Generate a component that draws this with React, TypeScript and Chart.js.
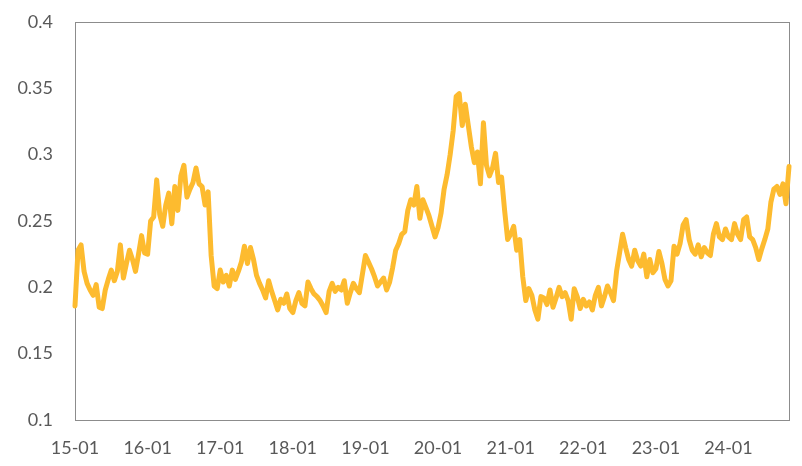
import React, { useEffect, useRef } from "react";
import { Chart, registerables } from "chart.js";

Chart.register(...registerables);

// Year tick labels shown on the x axis (one per January)
const tickLabels = ["15-01", "16-01", "17-01", "18-01", "19-01", "20-01", "21-01", "22-01", "23-01", "24-01"];

const values2015 = [0.186, 0.228, 0.232, 0.212, 0.203, 0.198, 0.194, 0.202, 0.185, 0.184, 0.198, 0.206, 0.213, 0.205, 0.212, 0.232, 0.207, 0.218, 0.228, 0.221, 0.212, 0.225, 0.239, 0.226];
const values2016 = [0.225, 0.25, 0.253, 0.281, 0.255, 0.246, 0.262, 0.271, 0.248, 0.276, 0.258, 0.284, 0.292, 0.268, 0.274, 0.279, 0.29, 0.278, 0.276, 0.262, 0.272, 0.224, 0.201, 0.199];
const values2017 = [0.213, 0.204, 0.209, 0.201, 0.213, 0.206, 0.212, 0.219, 0.231, 0.218, 0.23, 0.221, 0.209, 0.203, 0.198, 0.192, 0.205, 0.197, 0.19, 0.183, 0.191, 0.188, 0.195, 0.184];
const values2018 = [0.181, 0.19, 0.196, 0.188, 0.186, 0.204, 0.199, 0.195, 0.193, 0.19, 0.186, 0.181, 0.197, 0.203, 0.197, 0.2, 0.198, 0.205, 0.188, 0.196, 0.203, 0.199, 0.196, 0.21];
const values2019 = [0.224, 0.219, 0.214, 0.208, 0.201, 0.204, 0.207, 0.198, 0.204, 0.215, 0.228, 0.233, 0.24, 0.242, 0.258, 0.266, 0.262, 0.276, 0.252, 0.266, 0.26, 0.254, 0.246, 0.238];
const values2020 = [0.245, 0.256, 0.274, 0.285, 0.3, 0.318, 0.344, 0.346, 0.322, 0.338, 0.322, 0.306, 0.294, 0.302, 0.278, 0.324, 0.292, 0.284, 0.29, 0.301, 0.279, 0.283, 0.258, 0.236];
const values2021 = [0.24, 0.246, 0.228, 0.236, 0.208, 0.19, 0.199, 0.194, 0.183, 0.176, 0.193, 0.192, 0.187, 0.198, 0.185, 0.192, 0.2, 0.193, 0.196, 0.19, 0.176, 0.199, 0.193, 0.184];
const values2022 = [0.191, 0.186, 0.189, 0.183, 0.194, 0.2, 0.186, 0.193, 0.201, 0.196, 0.19, 0.212, 0.226, 0.24, 0.23, 0.221, 0.216, 0.228, 0.22, 0.216, 0.225, 0.208, 0.221, 0.211];
const values2023 = [0.214, 0.227, 0.218, 0.206, 0.201, 0.205, 0.231, 0.225, 0.233, 0.247, 0.251, 0.236, 0.228, 0.225, 0.232, 0.223, 0.23, 0.226, 0.224, 0.24, 0.248, 0.238, 0.236, 0.244];
const values2024 = [0.238, 0.236, 0.248, 0.24, 0.236, 0.251, 0.253, 0.238, 0.236, 0.23, 0.221, 0.229, 0.236, 0.244, 0.264, 0.274, 0.276, 0.27, 0.278, 0.263, 0.291];

const series = [
  ...values2015, ...values2016, ...values2017, ...values2018, ...values2019,
  ...values2020, ...values2021, ...values2022, ...values2023, ...values2024,
];

const POINTS_PER_YEAR = 24;
// Category labels: "YY-MM" for each half-month observation
const categories = series.map((_, i) => {
  const yr = 15 + Math.floor(i / POINTS_PER_YEAR);
  const mo = Math.floor((i % POINTS_PER_YEAR) / 2) + 1;
  return `${yr}-${String(mo).padStart(2, "0")}`;
});

const LINE_COLOR = "#FDBB2F";
const TEXT_COLOR = "#595959";
const BORDER_COLOR = "#8C8C8C";
const FONT = "Lato, 'Open Sans', sans-serif";

const boxPlugin = {
  id: "plotBox",
  beforeDatasetsDraw(chart: any) {
    const { ctx, chartArea } = chart;
    ctx.save();
    ctx.strokeStyle = BORDER_COLOR;
    ctx.lineWidth = 1;
    ctx.strokeRect(
      Math.round(chartArea.left) + 0.5,
      Math.round(chartArea.top) + 0.5,
      Math.round(chartArea.right - chartArea.left),
      Math.round(chartArea.bottom - chartArea.top)
    );
    ctx.restore();
  },
};

export default function App() {
  const ref = useRef<HTMLCanvasElement | null>(null);

  useEffect(() => {
    if (!ref.current) return;
    const chart = new Chart(ref.current, {
      type: "line",
      data: {
        labels: categories,
        datasets: [
          {
            data: series,
            borderColor: LINE_COLOR,
            backgroundColor: LINE_COLOR,
            borderWidth: 5,
            pointRadius: 0,
            tension: 0,
            borderJoinStyle: "round",
            borderCapStyle: "round",
            clip: false as any,
          },
        ],
      },
      options: {
        animation: false,
        responsive: true,
        maintainAspectRatio: false,
        layout: { padding: { left: 0, right: 13, top: 22, bottom: 0 } },
        plugins: { legend: { display: false }, tooltip: { enabled: false } },
        scales: {
          x: {
            type: "category",
            offset: false,
            grid: { display: false, drawTicks: false },
            border: { display: false },
            ticks: {
              autoSkip: false,
              maxRotation: 0,
              minRotation: 0,
              padding: 17,
              color: TEXT_COLOR,
              font: { family: FONT, size: 18 },
              callback: (_v: any, idx: number) =>
                idx % POINTS_PER_YEAR === 0 ? tickLabels[idx / POINTS_PER_YEAR] : null,
            },
            afterFit: (scale: any) => {
              scale.height = 46;
            },
          },
          y: {
            min: 0.1,
            max: 0.4,
            grid: { display: false, drawTicks: false },
            border: { display: false },
            ticks: {
              stepSize: 0.05,
              padding: 22,
              color: TEXT_COLOR,
              font: { family: FONT, size: 18 },
              callback: (v: any) => String(parseFloat(Number(v).toFixed(2))),
            },
            afterFit: (scale: any) => {
              scale.width = 75;
              scale.paddingTop = 0;
              scale.paddingBottom = 0;
            },
          },
        },
      },
      plugins: [boxPlugin],
    });
    return () => chart.destroy();
  }, []);

  return (
    <div style={{ position: "absolute", left: 0, top: 0, width: 802, height: 466, background: "#fff" }}>
      <canvas ref={ref} />
    </div>
  );
}
